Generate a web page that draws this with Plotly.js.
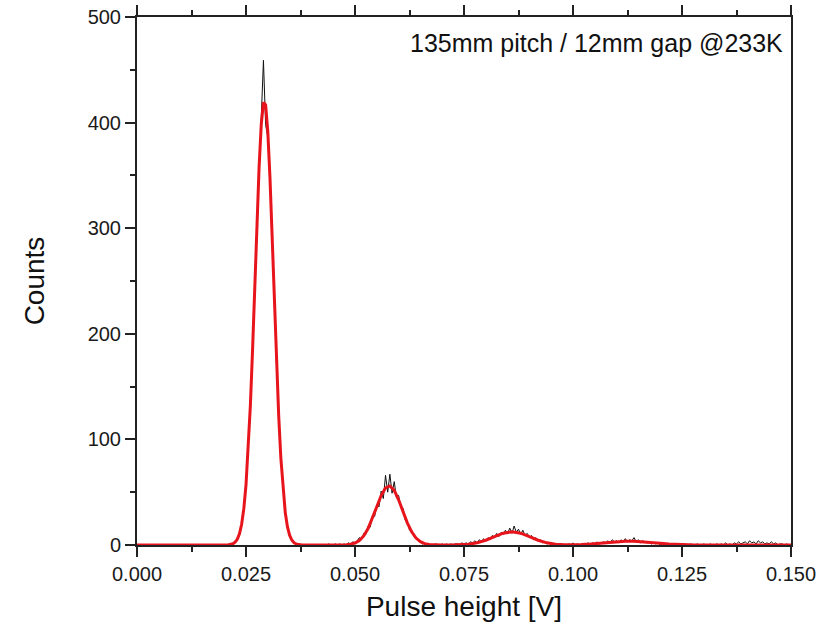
<!DOCTYPE html>
<html>
<head>
<meta charset="utf-8">
<script src="https://cdn.plot.ly/plotly-3.0.1.min.js"></script>
<style>html,body{margin:0;padding:0;background:#fff}#chart{width:831px;height:633px}</style>
</head>
<body>
<div id="chart"></div>
<script>
// Measured pulse-height histogram (bin step 0.0005 V, starting at 0 V)
const histStart = 0.0;
const histStep = 0.0005;
const histCounts = [
  0,0,0,0,0,0,0,0,0,0, 0,0,0,0,0,0,0,0,0,0,
  0,0,0,0,0,0,0,0,0,0, 0,0,0,0,0,0,0,0,0,0,
  0,0,0,1,1,3,5,12,18,36, 55,92,128,187,240,306,352,403,459,398,
  386,352,288,236,170,126,80,54,29,19, 8,5,2,1,0,0,0,0,0,0,
  0,0,0,0,0,0,0,0,1,0, 0,1,0,1,0,1,0,2,1,3,
  2,4,7,5,11,10,18,17,28,27, 38,36,51,44,66,50,67,49,60,45,
  47,36,35,24,22,14,14,8,7,4, 3,1,2,0,1,0,0,1,0,0,
  1,0,1,0,1,0,1,1,0,2, 1,2,1,3,2,4,2,5,3,6,
  4,7,5,9,7,11,8,12,10,14, 11,16,11,18,12,15,10,14,9,11,
  7,9,5,7,4,5,2,3,1,2, 1,1,0,1,0,1,0,0,1,0,
  2,0,1,0,1,0,1,2,0,2, 1,3,1,2,3,2,4,2,5,3,
  4,2,5,3,6,3,5,4,7,3, 5,2,4,3,2,3,1,2,1,2,
  0,1,1,0,1,0,1,0,0,1, 0,1,0,0,1,0,0,1,0,0,
  1,0,0,1,0,0,1,0,1,0, 2,0,1,0,2,1,3,1,2,3,
  1,4,2,3,1,4,2,3,1,2, 1,3,1,2,0,1,1,0,1,0,
  0
];

// Multi-peak Gaussian fit curve
const fitX = [
  0.000,0.005,0.010,0.015,0.019,0.020,0.021,0.022,0.0225,0.023,0.0235,0.024,0.0245,0.025,
  0.0255,0.026,0.0265,0.027,0.0275,0.028,0.0285,0.029,0.0295,0.030,0.0305,0.031,0.0315,
  0.032,0.0325,0.033,0.0335,0.034,0.0345,0.035,0.0355,0.036,0.0365,0.037,0.038,0.039,
  0.040,0.045,0.046,0.047,0.048,0.049,0.050,0.051,0.052,0.053,0.054,0.055,0.056,0.057,
  0.058,0.059,0.060,0.061,0.062,0.063,0.064,0.065,0.066,0.067,0.068,0.069,0.070,0.072,
  0.074,0.076,0.078,0.080,0.082,0.084,0.086,0.088,0.090,0.092,0.094,0.096,0.098,0.100,
  0.102,0.104,0.106,0.108,0.110,0.112,0.114,0.116,0.118,0.120,0.122,0.124,0.126,0.128,
  0.130,0.135,0.140,0.145,0.150
];
const fitY = [
  0,0,0,0,0,0.03,0.2,1.2,2.6,5.4,10.6,19.6,34.4,57.0,
  89.2,131.9,184.2,243.2,303.3,357.6,398.3,419.1,416.7,391.5,347.6,291.6,231.1,
  173.1,122.4,81.9,51.7,30.9,17.4,9.3,4.7,2.2,1.0,0.4,0.05,0,
  0,0,0,0.09,0.27,0.76,1.9,4.3,8.6,15.6,25.1,36.2,46.8,54.0,
  55.9,51.7,42.8,31.7,21.0,12.5,6.6,3.1,1.3,0.5,0.17,0.06,0.02,0.05,
  0.21,0.74,2.04,4.5,7.9,11.2,12.5,11.2,7.9,4.5,2.04,0.74,0.29,0.26,
  0.47,0.92,1.56,2.32,3.02,3.44,3.44,3.02,2.32,1.56,0.92,0.47,0.21,0.08,
  0.02,0,0,0,0
];

const xTickVals = [0, 0.025, 0.05, 0.075, 0.1, 0.125, 0.15];
const xTickText = ['0.000','0.025','0.050','0.075','0.100','0.125','0.150'];
const yTickVals = [0, 100, 200, 300, 400, 500];
const yTickText = ['0','100','200','300','400','500'];

const FONT = '"Liberation Sans", Arial, sans-serif';

const traces = [
  {
    type: 'scatter', mode: 'lines',
    x0: histStart, dx: histStep, y: histCounts,
    line: {color: '#111111', width: 1},
    hoverinfo: 'skip', showlegend: false
  },
  {
    type: 'scatter', mode: 'lines',
    x: fitX, y: fitY,
    line: {color: '#e8141c', width: 3},
    hoverinfo: 'skip', showlegend: false
  }
];

const layout = {
  width: 831, height: 633,
  margin: {l: 137, r: 40, t: 17, b: 88, pad: 0},
  paper_bgcolor: '#ffffff', plot_bgcolor: '#ffffff',
  font: {family: FONT, color: '#1a1a1a'},
  showlegend: false,
  xaxis: {
    range: [0, 0.15], autorange: false,
    tickvals: xTickVals, ticktext: xTickText,
    ticks: 'outside', ticklen: 10, tickwidth: 2, tickcolor: '#222',
    minor: {dtick: 0.0125, tick0: 0, ticks: 'outside', ticklen: 5, tickwidth: 2, tickcolor: '#222', showgrid: false},
    showline: true, linecolor: '#222', linewidth: 2, mirror: 'ticks',
    showgrid: false, zeroline: false,
    tickfont: {family: FONT, size: 20, color: '#1a1a1a'},
    title: {text: 'Pulse height [V]', font: {family: FONT, size: 28, color: '#111'}, standoff: 12}
  },
  yaxis: {
    range: [0, 500], autorange: false,
    tickvals: yTickVals, ticktext: yTickText,
    ticks: 'outside', ticklen: 10, tickwidth: 2, tickcolor: '#222',
    minor: {dtick: 50, tick0: 0, ticks: 'outside', ticklen: 5, tickwidth: 2, tickcolor: '#222', showgrid: false},
    showline: true, linecolor: '#222', linewidth: 2, mirror: true,
    showgrid: false, zeroline: false,
    tickfont: {family: FONT, size: 20, color: '#1a1a1a'},
    title: {text: 'Counts', font: {family: FONT, size: 28, color: '#111'}, standoff: 35}
  },
  annotations: [{
    xref: 'paper', yref: 'paper', x: 0.991, y: 0.951,
    xanchor: 'right', yanchor: 'middle', showarrow: false,
    text: '135mm pitch / 12mm gap @233K',
    font: {family: FONT, size: 25, color: '#111'}
  }]
};

Plotly.newPlot('chart', traces, layout, {staticPlot: true, displayModeBar: false});
</script>
</body>
</html>
